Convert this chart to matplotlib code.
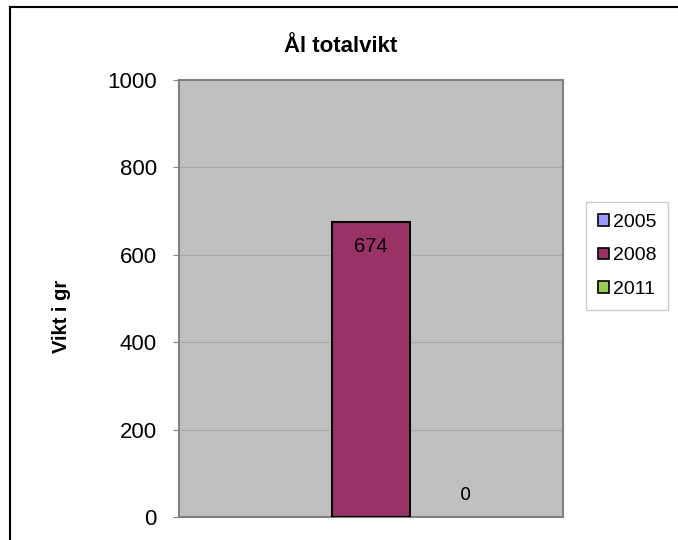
import matplotlib.pyplot as plt
from matplotlib.patches import Rectangle
from matplotlib.lines import Line2D
import numpy as np

plt.rcParams['font.family'] = ['Liberation Sans', 'DejaVu Sans']

years = ['2005', '2008', '2011']
weights = [0, 674, 0]
colors = ['#9999FF', '#993366', '#99CC55']
labels = ['', '674', '0']

fig = plt.figure(figsize=(6.78, 5.4), dpi=100)
ax = fig.add_axes([179 / 678, 1 - 517 / 540, (563 - 179) / 678, (517 - 80) / 540])

# outer frame: only top and left edges are visible in the original
fig.lines.append(Line2D([10 / 678, 1.0], [1 - 7 / 540, 1 - 7 / 540],
                        transform=fig.transFigure, color='black', linewidth=1.5))
fig.lines.append(Line2D([10 / 678, 10 / 678], [0, 1 - 7 / 540],
                        transform=fig.transFigure, color='black', linewidth=1.5))

ax.set_facecolor('#C0C0C0')
xpos = np.arange(len(years)) - 1
for x, w, c, y in zip(xpos, weights, colors, years):
    # zero bars have no visible outline
    ax.bar(x, w, width=1.0, color=c, edgecolor='black' if w > 0 else 'none',
           linewidth=1.5, label=y, zorder=3)

# value labels
ax.annotate(labels[1], (xpos[1], weights[1]), xytext=(0, -17),
            textcoords='offset points', ha='center', va='center', fontsize=14.5)
ax.annotate(labels[2], (xpos[2], weights[2]), xytext=(12, 16),
            textcoords='offset points', ha='center', va='center', fontsize=13,
            family='DejaVu Sans')

ax.set_xlim(-2.46, 2.46)
ax.set_ylim(0, 1000)
ax.set_yticks(np.arange(0, 1001, 200))
ax.set_xticks([])
ax.tick_params(axis='y', labelsize=16, length=4, color='#808080', pad=12)
ax.yaxis.grid(True, color='#A6A6A6', linewidth=0.8, zorder=0)
ax.set_axisbelow(True)
for s in ax.spines.values():
    s.set_color('#808080')
    s.set_linewidth(1.5)

ax.set_ylabel('Vikt i gr', fontsize=14.5, fontweight='bold')
ax.yaxis.set_label_coords(-0.28, 0.46)
fig.text(341 / 678, 1 - 46 / 540, 'Ål totalvikt', ha='center', va='center',
         fontsize=16, fontweight='bold')

handles = [Rectangle((0, 0), 1, 1, facecolor=c, edgecolor='black', linewidth=1.2)
           for c in colors]
leg = fig.legend(handles, years, loc='center', bbox_to_anchor=(627 / 678, 1 - 256 / 540),
                 fontsize=14, frameon=True, fancybox=False, handlelength=0.55,
                 handleheight=0.55, handletextpad=0.2, labelspacing=0.85,
                 borderpad=0.6, borderaxespad=0)
leg.get_frame().set_edgecolor('#C0C0C0')
leg.get_frame().set_linewidth(1)

fig.savefig('out.png', dpi=100)
